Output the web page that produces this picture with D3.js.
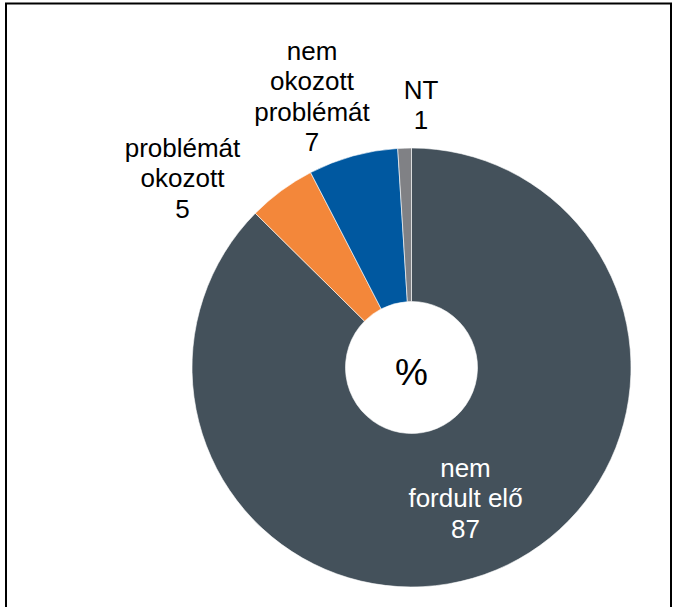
<!DOCTYPE html>
<html>
<head>
<meta charset="utf-8">
<script src="https://cdn.jsdelivr.net/npm/d3@7"></script>
<style>
  html, body { margin: 0; padding: 0; background: #fff; }
  svg { display: block; }
  text { font-family: "Liberation Sans", Arial, sans-serif; }
</style>
</head>
<body>
<svg id="chart" width="678" height="607"></svg>
<script>
// ---- data ----
const categories = ["nem fordult elő", "problémát okozott", "nem okozott problémát", "NT"];
const values = [87.4, 5.0, 6.6, 1.0];
const labelNumbers = ["87", "5", "7", "1"];
const labelLines = [["nem", "fordult elő"], ["problémát", "okozott"], ["nem", "okozott", "problémát"], ["NT"]];
const colors = ["#44515b", "#f3873a", "#0058a0", "#808185"];
const centerText = "%";

// ---- layout ----
const W = 678, H = 607;
const cx = 411.5, cy = 367.5, outerR = 219.5, innerR = 66;
// label block anchor: [dx from centre, baseline y of first line relative to centre]
const labelAnchors = [[54, 109], [-229, -211], [-99.5, -308], [9.5, -269]];
const labelColors = ["#ffffff", "#000000", "#000000", "#000000"];
const lineH = 30.5;

const svg = d3.select("#chart");

svg.append("rect")
  .attr("x", 6).attr("y", 3.5).attr("width", 665).attr("height", 640)
  .attr("fill", "none").attr("stroke", "#000").attr("stroke-width", 2);

const data = categories.map((c, i) => ({ cat: c, value: values[i], i }));

const pie = d3.pie().value(d => d.value).sort(null);
const arc = d3.arc().innerRadius(innerR).outerRadius(outerR);

const g = svg.append("g").attr("transform", `translate(${cx},${cy})`);

g.selectAll("path.slice")
  .data(pie(data))
  .join("path")
  .attr("class", "slice")
  .attr("d", arc)
  .attr("fill", d => colors[d.data.i])
  .attr("stroke", "#ffffff")
  .attr("stroke-width", 0.6);

g.append("text")
  .attr("x", 0).attr("y", 17)
  .attr("text-anchor", "middle")
  .attr("font-size", 37)
  .attr("fill", "#000")
  .text(centerText);

data.forEach((d, i) => {
  const lines = labelLines[i].concat([labelNumbers[i]]);
  const t = g.append("text")
    .attr("text-anchor", "middle")
    .attr("font-size", 26)
    .attr("fill", labelColors[i]);
  lines.forEach((ln, k) => {
    t.append("tspan")
      .attr("x", labelAnchors[i][0])
      .attr("y", labelAnchors[i][1] + k * lineH)
      .text(ln);
  });
});
</script>
</body>
</html>
